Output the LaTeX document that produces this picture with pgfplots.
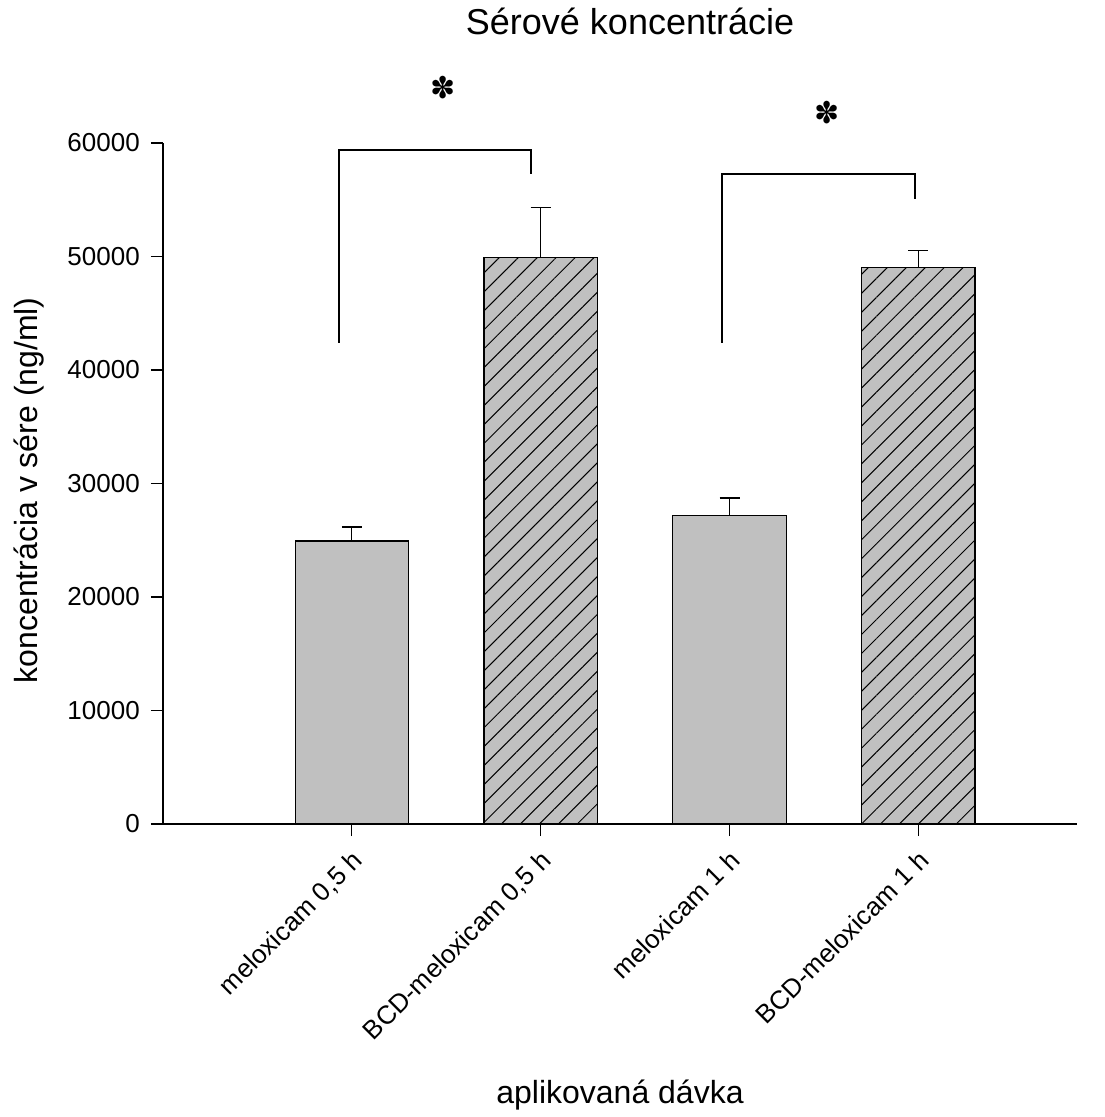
\documentclass[border=0pt]{standalone}
\usepackage{fontspec}
\setmainfont{Liberation Sans}
\newfontfamily\djv{DejaVu Sans}
\usepackage{pgfplots}
\pgfplotsset{compat=1.18}
\usetikzlibrary{patterns.meta}
\definecolor{bargray}{RGB}{192,192,192}
\pgfplotsset{
  mybar/.style={ybar, bar width=0.6, bar shift=0pt, line width=1.2pt},
  myerr/.style={error bars/.cd, y dir=plus, y explicit, error mark=-,
    error bar style={line width=1.3pt, black},
    error mark options={rotate=90, mark size=10pt, line width=1.3pt, black}},
}
\begin{document}
\begin{tikzpicture}
\useasboundingbox (0,0) rectangle (1104pt,1117pt);
\begin{axis}[
  scale only axis, width=914pt, height=681pt,
  at={(163pt,293pt)}, anchor=south west,
  xmin=-1, xmax=3.84, ymin=0, ymax=60000,
  axis x line=bottom, axis y line=left,
  axis line style={-, line width=1.5pt, black},
  tick align=outside, major tick length=12pt,
  tick style={line width=1.3pt, black},
  xtick={0,1,2,3},
  xticklabels={{meloxicam 0,5 h},{BCD-meloxicam 0,5 h},{meloxicam 1 h},{BCD-meloxicam 1 h}},
  xticklabel style={rotate=45, anchor=north east, font=\fontsize{26}{30}\selectfont, inner sep=0pt, yshift=-8pt, xshift=-10pt},
  ytick={0,10000,20000,30000,40000,50000,60000},
  yticklabels={0,10000,20000,30000,40000,50000,60000},
  scaled y ticks=false,
  yticklabel style={font=\fontsize{26}{30}\selectfont, inner sep=0pt, xshift=-11pt},
  ylabel={koncentrácia v sére (ng/ml)},
  ylabel style={at={(axis description cs:-0.1466,0.49)}, anchor=center, font=\fontsize{32}{38}\selectfont},
  xlabel={aplikovaná dávka},
  xlabel style={at={(axis description cs:0.5,-0.41)}, anchor=base, font=\fontsize{32}{38}\selectfont},
  title={Sérové koncentrácie},
  title style={at={(axis description cs:0.511,1.151)}, anchor=base, font=\fontsize{36}{42}\selectfont},
  clip=false,
]
% plain bars
\addplot[mybar, fill=bargray, draw=black, myerr] coordinates {(0,24930) +- (0,1240)};
\addplot[mybar, fill=bargray, draw=black, myerr] coordinates {(2,27160) +- (0,1560)};
% hatched bars: gray fill, then hatch pattern
\addplot[mybar, fill=bargray, draw=none, forget plot] coordinates {(1,49890)};
\addplot[mybar, fill=bargray, draw=none, forget plot] coordinates {(3,49010)};
\addplot[mybar, draw=black, pattern={Lines[angle=45,distance=13.4pt,line width=1pt]}, pattern color=black, myerr] coordinates {(1,49890) +- (0,4410)};
\addplot[mybar, draw=black, pattern={Lines[angle=45,distance=13.4pt,line width=1pt]}, pattern color=black, myerr] coordinates {(3,49010) +- (0,1500)};
% significance brackets
\addplot[black, line width=1.8pt, mark=none, line join=miter] coordinates {(-0.07,42405) (-0.07,59383) (0.948,59383) (0.948,57242)};
\addplot[black, line width=1.8pt, mark=none, line join=miter] coordinates {(1.962,42405) (1.962,57242) (2.981,57242) (2.981,55040)};
\node[font=\djv\fontsize{30}{32}\selectfont, inner sep=0pt] at (axis cs:0.482,64907) {✽};
\node[font=\djv\fontsize{30}{32}\selectfont, inner sep=0pt] at (axis cs:2.515,62670) {✽};
\end{axis}
\end{tikzpicture}
\end{document}
